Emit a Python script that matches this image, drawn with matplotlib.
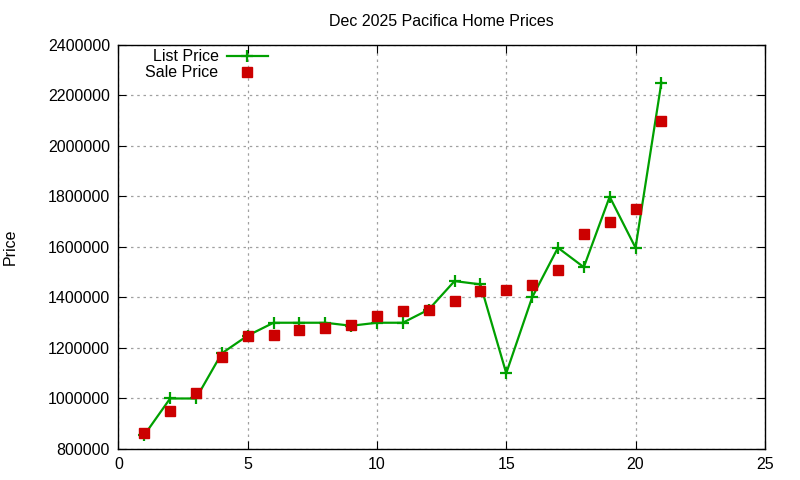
import matplotlib
matplotlib.use("Agg")
import matplotlib.pyplot as plt

plt.rcParams['font.family'] = ['Liberation Sans', 'DejaVu Sans']

x = list(range(1, 22))
list_price = [855000, 1000000, 1000000, 1179000, 1249000, 1300000, 1300000, 1300000,
              1288000, 1300000, 1300000, 1352000, 1465000, 1452000, 1100000, 1400000,
              1597000, 1520000, 1799000, 1597000, 2251000]
sale_price = [864000, 952000, 1022000, 1165000, 1249000, 1253000, 1272000, 1280000,
              1292000, 1327000, 1348000, 1352000, 1387000, 1427000, 1431000, 1450000,
              1510000, 1653000, 1699000, 1750000, 2099000]
xticks = [0, 5, 10, 15, 20, 25]
yticks = list(range(800000, 2400001, 200000))

fig = plt.figure(figsize=(8, 4.8), dpi=100)
ax = fig.add_axes([0.148, 0.0646, 0.808, 0.8417])

ax.plot(x, list_price, color='#00a000', lw=1.6, marker='+', ms=8, mew=1.6,
        label='List Price', zorder=3)
ax.plot(x, sale_price, ls='none', marker='s', ms=6.5, color='#cc0000',
        label='Sale Price', zorder=4)

ax.set_xlim(0, 25)
ax.set_ylim(800000, 2400000)
ax.set_xticks(xticks)
ax.set_yticks(yticks)
ax.set_yticklabels([str(v) for v in yticks])
ax.tick_params(direction='in', length=6, top=True, right=True, labelsize=11.5, pad=6)
ax.grid(True, color='#a0a0a0', ls=(0, (2, 3)), lw=0.9)
for s in ax.spines.values():
    s.set_linewidth(1.0)

ax.set_title('Dec 2025 Pacifica Home Prices', fontsize=11.5, pad=14)
ax.set_ylabel('Price', fontsize=11.5, labelpad=22)

leg = ax.legend(loc='upper left', bbox_to_anchor=(0.027, 1.013), frameon=False,
                markerfirst=False, fontsize=11.5, handlelength=2.6,
                borderaxespad=0.2, labelspacing=0.05, handletextpad=0.5)
for t in leg.get_texts():
    t.set_ha('right')

fig.savefig('out.png', dpi=100)
